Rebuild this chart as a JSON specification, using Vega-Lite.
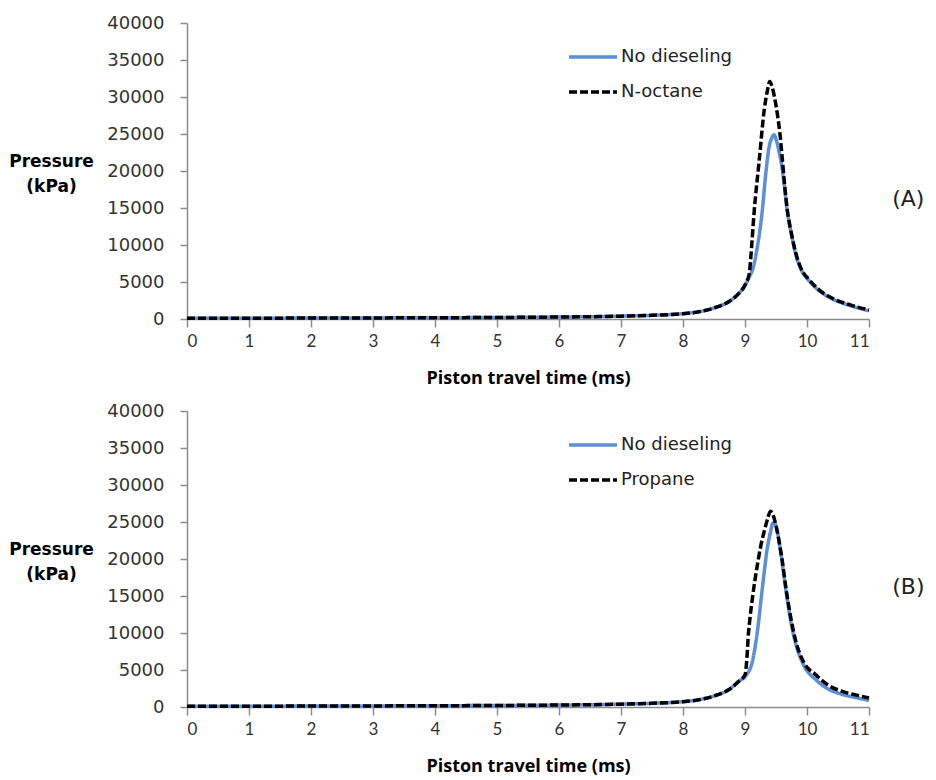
{
  "$schema": "https://vega.github.io/schema/vega-lite/v6.json",
  "background": "white",
  "padding": {"left": 8, "top": 14, "right": 2, "bottom": 0},
  "spacing": 15,
  "data": {"values": [
    {"panel":"A","series":"No dieseling","t":0,"p":100},{"panel":"A","series":"No dieseling","t":1,"p":110},{"panel":"A","series":"No dieseling","t":2,"p":125},{"panel":"A","series":"No dieseling","t":3,"p":145},{"panel":"A","series":"No dieseling","t":4,"p":170},{"panel":"A","series":"No dieseling","t":5,"p":205},{"panel":"A","series":"No dieseling","t":5.5,"p":230},{"panel":"A","series":"No dieseling","t":6,"p":265},{"panel":"A","series":"No dieseling","t":6.5,"p":310},{"panel":"A","series":"No dieseling","t":7,"p":380},{"panel":"A","series":"No dieseling","t":7.5,"p":500},{"panel":"A","series":"No dieseling","t":8,"p":720},{"panel":"A","series":"No dieseling","t":8.26,"p":990},{"panel":"A","series":"No dieseling","t":8.56,"p":1660},{"panel":"A","series":"No dieseling","t":8.75,"p":2400},{"panel":"A","series":"No dieseling","t":8.9,"p":3470},{"panel":"A","series":"No dieseling","t":9,"p":4500},{"panel":"A","series":"No dieseling","t":9.07,"p":5720},{"panel":"A","series":"No dieseling","t":9.12,"p":6620},{"panel":"A","series":"No dieseling","t":9.2,"p":9770},{"panel":"A","series":"No dieseling","t":9.28,"p":14730},{"panel":"A","series":"No dieseling","t":9.33,"p":19230},{"panel":"A","series":"No dieseling","t":9.39,"p":23290},{"panel":"A","series":"No dieseling","t":9.44,"p":24600},{"panel":"A","series":"No dieseling","t":9.47,"p":24900},{"panel":"A","series":"No dieseling","t":9.5,"p":24300},{"panel":"A","series":"No dieseling","t":9.55,"p":22600},{"panel":"A","series":"No dieseling","t":9.6,"p":20300},{"panel":"A","series":"No dieseling","t":9.64,"p":17600},{"panel":"A","series":"No dieseling","t":9.68,"p":14700},{"panel":"A","series":"No dieseling","t":9.75,"p":11400},{"panel":"A","series":"No dieseling","t":9.82,"p":8700},{"panel":"A","series":"No dieseling","t":9.9,"p":6800},{"panel":"A","series":"No dieseling","t":10.04,"p":5100},{"panel":"A","series":"No dieseling","t":10.2,"p":3800},{"panel":"A","series":"No dieseling","t":10.41,"p":2700},{"panel":"A","series":"No dieseling","t":10.7,"p":1800},{"panel":"A","series":"No dieseling","t":11,"p":1100},

    {"panel":"A","series":"N-octane","t":0,"p":100},{"panel":"A","series":"N-octane","t":1,"p":110},{"panel":"A","series":"N-octane","t":2,"p":125},{"panel":"A","series":"N-octane","t":3,"p":145},{"panel":"A","series":"N-octane","t":4,"p":170},{"panel":"A","series":"N-octane","t":5,"p":205},{"panel":"A","series":"N-octane","t":5.5,"p":230},{"panel":"A","series":"N-octane","t":6,"p":265},{"panel":"A","series":"N-octane","t":6.5,"p":310},{"panel":"A","series":"N-octane","t":7,"p":380},{"panel":"A","series":"N-octane","t":7.5,"p":500},{"panel":"A","series":"N-octane","t":8,"p":720},{"panel":"A","series":"N-octane","t":8.26,"p":990},{"panel":"A","series":"N-octane","t":8.56,"p":1660},{"panel":"A","series":"N-octane","t":8.75,"p":2400},{"panel":"A","series":"N-octane","t":8.9,"p":3470},{"panel":"A","series":"N-octane","t":9,"p":4600},{"panel":"A","series":"N-octane","t":9.07,"p":6180},{"panel":"A","series":"N-octane","t":9.09,"p":7970},{"panel":"A","series":"N-octane","t":9.15,"p":14730},{"panel":"A","series":"N-octane","t":9.23,"p":21490},{"panel":"A","series":"N-octane","t":9.31,"p":28240},{"panel":"A","series":"N-octane","t":9.36,"p":30800},{"panel":"A","series":"N-octane","t":9.4,"p":32100},{"panel":"A","series":"N-octane","t":9.44,"p":31300},{"panel":"A","series":"N-octane","t":9.48,"p":29800},{"panel":"A","series":"N-octane","t":9.52,"p":27800},{"panel":"A","series":"N-octane","t":9.56,"p":25300},{"panel":"A","series":"N-octane","t":9.6,"p":21800},{"panel":"A","series":"N-octane","t":9.64,"p":18000},{"panel":"A","series":"N-octane","t":9.68,"p":14900},{"panel":"A","series":"N-octane","t":9.75,"p":11500},{"panel":"A","series":"N-octane","t":9.82,"p":8880},{"panel":"A","series":"N-octane","t":9.9,"p":6900},{"panel":"A","series":"N-octane","t":10.04,"p":5270},{"panel":"A","series":"N-octane","t":10.2,"p":3900},{"panel":"A","series":"N-octane","t":10.41,"p":2800},{"panel":"A","series":"N-octane","t":10.7,"p":1900},{"panel":"A","series":"N-octane","t":11,"p":1220},

    {"panel":"B","series":"No dieseling","t":0,"p":100},{"panel":"B","series":"No dieseling","t":1,"p":110},{"panel":"B","series":"No dieseling","t":2,"p":125},{"panel":"B","series":"No dieseling","t":3,"p":145},{"panel":"B","series":"No dieseling","t":4,"p":170},{"panel":"B","series":"No dieseling","t":5,"p":205},{"panel":"B","series":"No dieseling","t":5.5,"p":230},{"panel":"B","series":"No dieseling","t":6,"p":265},{"panel":"B","series":"No dieseling","t":6.5,"p":310},{"panel":"B","series":"No dieseling","t":7,"p":380},{"panel":"B","series":"No dieseling","t":7.5,"p":500},{"panel":"B","series":"No dieseling","t":8,"p":720},{"panel":"B","series":"No dieseling","t":8.26,"p":990},{"panel":"B","series":"No dieseling","t":8.56,"p":1660},{"panel":"B","series":"No dieseling","t":8.75,"p":2400},{"panel":"B","series":"No dieseling","t":8.9,"p":3470},{"panel":"B","series":"No dieseling","t":9.01,"p":4200},{"panel":"B","series":"No dieseling","t":9.12,"p":6180},{"panel":"B","series":"No dieseling","t":9.2,"p":10230},{"panel":"B","series":"No dieseling","t":9.28,"p":16080},{"panel":"B","series":"No dieseling","t":9.36,"p":21490},{"panel":"B","series":"No dieseling","t":9.41,"p":23600},{"panel":"B","series":"No dieseling","t":9.45,"p":24860},{"panel":"B","series":"No dieseling","t":9.48,"p":24800},{"panel":"B","series":"No dieseling","t":9.52,"p":23800},{"panel":"B","series":"No dieseling","t":9.56,"p":21800},{"panel":"B","series":"No dieseling","t":9.6,"p":19500},{"panel":"B","series":"No dieseling","t":9.66,"p":15800},{"panel":"B","series":"No dieseling","t":9.74,"p":11500},{"panel":"B","series":"No dieseling","t":9.82,"p":8500},{"panel":"B","series":"No dieseling","t":9.95,"p":5600},{"panel":"B","series":"No dieseling","t":10.14,"p":3700},{"panel":"B","series":"No dieseling","t":10.35,"p":2400},{"panel":"B","series":"No dieseling","t":10.57,"p":1700},{"panel":"B","series":"No dieseling","t":10.8,"p":1250},{"panel":"B","series":"No dieseling","t":11,"p":900},

    {"panel":"B","series":"Propane","t":0,"p":100},{"panel":"B","series":"Propane","t":1,"p":110},{"panel":"B","series":"Propane","t":2,"p":125},{"panel":"B","series":"Propane","t":3,"p":145},{"panel":"B","series":"Propane","t":4,"p":170},{"panel":"B","series":"Propane","t":5,"p":205},{"panel":"B","series":"Propane","t":5.5,"p":230},{"panel":"B","series":"Propane","t":6,"p":265},{"panel":"B","series":"Propane","t":6.5,"p":310},{"panel":"B","series":"Propane","t":7,"p":380},{"panel":"B","series":"Propane","t":7.5,"p":500},{"panel":"B","series":"Propane","t":8,"p":720},{"panel":"B","series":"Propane","t":8.26,"p":990},{"panel":"B","series":"Propane","t":8.56,"p":1660},{"panel":"B","series":"Propane","t":8.75,"p":2400},{"panel":"B","series":"Propane","t":8.9,"p":3470},{"panel":"B","series":"Propane","t":9,"p":4370},{"panel":"B","series":"Propane","t":9.03,"p":6500},{"panel":"B","series":"Propane","t":9.05,"p":9320},{"panel":"B","series":"Propane","t":9.08,"p":12000},{"panel":"B","series":"Propane","t":9.12,"p":14730},{"panel":"B","series":"Propane","t":9.2,"p":19230},{"panel":"B","series":"Propane","t":9.26,"p":22000},{"panel":"B","series":"Propane","t":9.31,"p":23740},{"panel":"B","series":"Propane","t":9.36,"p":25300},{"panel":"B","series":"Propane","t":9.41,"p":26450},{"panel":"B","series":"Propane","t":9.45,"p":26000},{"panel":"B","series":"Propane","t":9.5,"p":24500},{"panel":"B","series":"Propane","t":9.55,"p":22390},{"panel":"B","series":"Propane","t":9.6,"p":19800},{"panel":"B","series":"Propane","t":9.66,"p":16080},{"panel":"B","series":"Propane","t":9.74,"p":12000},{"panel":"B","series":"Propane","t":9.82,"p":8880},{"panel":"B","series":"Propane","t":9.95,"p":6000},{"panel":"B","series":"Propane","t":10.14,"p":4370},{"panel":"B","series":"Propane","t":10.35,"p":2900},{"panel":"B","series":"Propane","t":10.57,"p":2120},{"panel":"B","series":"Propane","t":10.8,"p":1600},{"panel":"B","series":"Propane","t":11,"p":1220}
  ]},
  "vconcat": [
    {
      "width": 682, "height": 296,
      "title": {"text": "(A)", "orient": "right", "anchor": "middle", "angle": 0, "align": "left", "baseline": "middle", "frame": "group", "offset": -16, "dy": 28, "font": "DejaVu Sans", "fontSize": 22, "fontWeight": "normal", "color": "#222"},
      "transform": [{"filter": "datum.panel === 'A'"}],
      "encoding": {
        "x": {"field": "t", "type": "quantitative", "scale": {"domain": [0, 11], "nice": false}, "axis": {"values": [0,1,2,3,4,5,6,7,8,9,10,11], "title": "Piston travel time (ms)"}},
        "y": {"field": "p", "type": "quantitative", "scale": {"domain": [0, 40000], "nice": false}, "axis": {"values": [0,5000,10000,15000,20000,25000,30000,35000,40000], "format": "d", "title": ["Pressure", "(kPa)"]}},
        "color": {"field": "series", "type": "nominal", "scale": {"domain": ["No dieseling", "N-octane"], "range": ["#5B8FD6", "#000000"]}, "legend": {"orient": "none", "legendX": 380, "legendY": 8, "title": null, "symbolType": "stroke", "symbolSize": 2300, "symbolStrokeWidth": 3.5, "labelFont": "DejaVu Sans", "labelFontSize": 18, "labelColor": "#222", "rowPadding": -10, "labelOffset": 2}},
        "strokeDash": {"field": "series", "type": "nominal", "scale": {"domain": ["No dieseling", "N-octane"], "range": [[1, 0], [8, 3]]}, "legend": {"orient": "none", "legendX": 380, "legendY": 8, "title": null, "symbolType": "stroke", "symbolSize": 2300, "symbolStrokeWidth": 3.5, "labelFont": "DejaVu Sans", "labelFontSize": 18, "labelColor": "#222", "rowPadding": -10, "labelOffset": 2}}
      },
      "layer": [
        {"transform": [{"filter": "datum.series === 'No dieseling'"}], "mark": {"type": "line", "strokeWidth": 3.5, "interpolate": "monotone"}},
        {"transform": [{"filter": "datum.series !== 'No dieseling'"}], "mark": {"type": "line", "strokeWidth": 3.5, "interpolate": "monotone"}}
      ]
    },
    {
      "width": 682, "height": 296,
      "title": {"text": "(B)", "orient": "right", "anchor": "middle", "angle": 0, "align": "left", "baseline": "middle", "frame": "group", "offset": -16, "dy": 28, "font": "DejaVu Sans", "fontSize": 22, "fontWeight": "normal", "color": "#222"},
      "transform": [{"filter": "datum.panel === 'B'"}],
      "encoding": {
        "x": {"field": "t", "type": "quantitative", "scale": {"domain": [0, 11], "nice": false}, "axis": {"values": [0,1,2,3,4,5,6,7,8,9,10,11], "title": "Piston travel time (ms)"}},
        "y": {"field": "p", "type": "quantitative", "scale": {"domain": [0, 40000], "nice": false}, "axis": {"values": [0,5000,10000,15000,20000,25000,30000,35000,40000], "format": "d", "title": ["Pressure", "(kPa)"]}},
        "color": {"field": "series", "type": "nominal", "scale": {"domain": ["No dieseling", "Propane"], "range": ["#5B8FD6", "#000000"]}, "legend": {"orient": "none", "legendX": 380, "legendY": 8, "title": null, "symbolType": "stroke", "symbolSize": 2300, "symbolStrokeWidth": 3.5, "labelFont": "DejaVu Sans", "labelFontSize": 18, "labelColor": "#222", "rowPadding": -10, "labelOffset": 2}},
        "strokeDash": {"field": "series", "type": "nominal", "scale": {"domain": ["No dieseling", "Propane"], "range": [[1, 0], [8, 3]]}, "legend": {"orient": "none", "legendX": 380, "legendY": 8, "title": null, "symbolType": "stroke", "symbolSize": 2300, "symbolStrokeWidth": 3.5, "labelFont": "DejaVu Sans", "labelFontSize": 18, "labelColor": "#222", "rowPadding": -10, "labelOffset": 2}}
      },
      "layer": [
        {"transform": [{"filter": "datum.series === 'No dieseling'"}], "mark": {"type": "line", "strokeWidth": 3.5, "interpolate": "monotone"}},
        {"transform": [{"filter": "datum.series !== 'No dieseling'"}], "mark": {"type": "line", "strokeWidth": 3.5, "interpolate": "monotone"}}
      ]
    }
  ],
  "resolve": {"scale": {"color": "independent", "strokeDash": "independent", "x": "independent", "y": "independent"}, "legend": {"color": "independent", "strokeDash": "independent"}},
  "config": {
    "view": {"stroke": null},
    "axis": {"grid": false, "domainColor": "#8C8C8C", "domainWidth": 1.5, "tickColor": "#8C8C8C", "tickWidth": 1.5, "labelColor": "#333333", "titleColor": "#000000"},
    "axisX": {"tickSize": 8, "labelPadding": 6, "labelFont": "Lato", "labelFontSize": 17, "titleFont": "Open Sans", "titleFontSize": 18, "titleFontWeight": "bold", "titlePadding": 20},
    "axisY": {"tickSize": 7, "labelPadding": 16, "labelFont": "DejaVu Sans", "labelFontSize": 18, "titleAngle": 0, "titleAlign": "center", "titleBaseline": "alphabetic", "titleX": -136, "titleY": 143, "titleFont": "DejaVu Sans", "titleFontSize": 17, "titleFontWeight": "bold", "titleLineHeight": 25}
  }
}
